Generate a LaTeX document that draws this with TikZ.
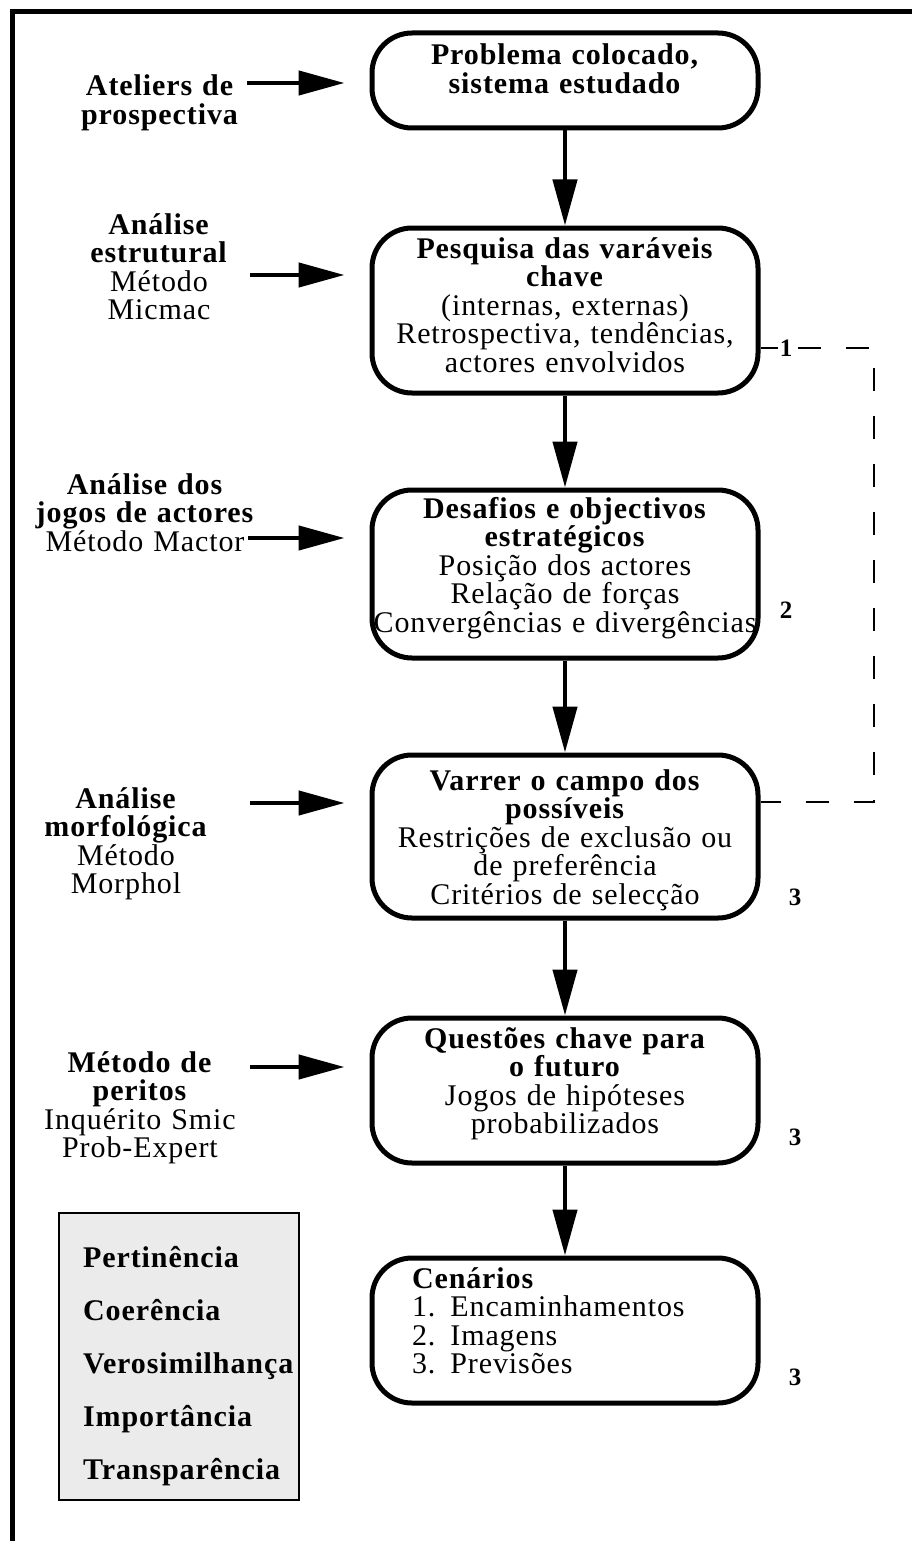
\documentclass[tikz,border=0pt]{standalone}
\usepackage{fontspec}
\setmainfont{Liberation Serif}[LetterSpace=3]
\usetikzlibrary{arrows.meta}
\newcommand{\boxfont}{\fontsize{30}{28.5}\selectfont\lineskiplimit=-50pt}
\newcommand{\tagfont}{\fontsize{25}{27}\selectfont\bfseries}
\tikzset{stage/.style = {draw, line width = 5pt, rounded corners = 40pt, text width = 386pt, inner xsep = 0pt, inner ysep = 8pt, align = center, anchor = base, font = \boxfont}}
\tikzset{side/.style = {text width = 230pt, inner sep = 0pt, align = center, anchor = base, font = \boxfont}}
\tikzset{feed/.style = {line width = 4.5pt, -{Triangle[length = 46pt, width = 24pt]}}}
\tikzset{link/.style = {line width = 2.5pt}}
\tikzset{tag/.style = {font = \tagfont, inner sep = 2pt}}
\tikzset{crit/.style = {draw, line width = 2pt, fill = black!8, inner sep = 0pt, minimum width = 240pt, minimum height = 287pt}}
\tikzset{critem/.style = {font = \boxfont\bfseries, anchor = base west, inner sep = 0pt}}

\begin{document}
\begin{tikzpicture}[x = 1pt, y = -1pt]
    \useasboundingbox (0, 0) rectangle (912, 1541);
    \draw [line width = 5pt] (12, 1560) -- (12, 11.5) -- (930, 11.5);
    % main chain
    \node [stage, text height = 24pt, text depth = 55pt] (b1) at (565, 65)
      {\textbf{Problema colocado,}\\ \textbf{sistema estudado}};
    \node [stage, text height = 22pt, text depth = 127pt] (b2) at (565, 258)
      {\textbf{Pesquisa das varáveis}\\ \textbf{chave}\\ (internas, externas)\\ Retrospectiva, tendências,\\ actores envolvidos};
    \node [stage, text height = 20pt, text depth = 132pt] (b3) at (565, 518)
      {\textbf{Desafios e objectivos}\\ \textbf{estratégicos}\\ Posição dos actores\\ Relação de forças\\ Convergências e divergências};
    \node [stage, text height = 27pt, text depth = 120pt] (b4) at (565, 790)
      {\textbf{Varrer o campo dos}\\ \textbf{possíveis}\\ Restrições de exclusão ou\\ de preferência\\ Critérios de selecção};
    \node [stage, text height = 22pt, text depth = 107pt] (b5) at (565, 1048)
      {\textbf{Questões chave para}\\ \textbf{o futuro}\\ Jogos de hipóteses\\ probabilizados};
    \node [stage, text width = 306pt, minimum width = 386pt, align = left, text height = 22pt, text depth = 107pt] (b6) at (565, 1288)
      {\textbf{Cenários}\\ 1. Encaminhamentos\\ 2. Imagens\\ 3. Previsões};
    \draw [feed] (b1.south) -- (b2.north);
    \draw [feed] (b2.south) -- (b3.north);
    \draw [feed] (b3.south) -- (b4.north);
    \draw [feed] (b4.south) -- (b5.north);
    \draw [feed] (b5.south) -- (b6.north);
    % methods on the left
    \node [side] (l1) at (160, 96) {\textbf{Ateliers de}\\ \textbf{prospectiva}};
    \node [side] (l2) at (159, 234) {\textbf{Análise}\\ \textbf{estrutural}\\ Método\\ Micmac};
    \node [side] (l3) at (145, 494) {\textbf{Análise dos}\\ \textbf{jogos de actores}\\ Método Mactor};
    \node [side] (l4) at (126, 808) {\textbf{Análise}\\ \textbf{morfológica}\\ Método\\ Morphol};
    \node [side] (l5) at (140, 1072) {\textbf{Método de}\\ \textbf{peritos}\\ Inquérito Smic\\ Prob-Expert};
    \coordinate (s1) at (247, 83);
    \coordinate (s2) at (250, 275);
    \coordinate (s3) at (248, 538);
    \coordinate (s4) at (250, 803);
    \coordinate (s5) at (250, 1067);
    \draw [feed, shorten > = 25pt] (s1) -- (s1 -| b1.west);
    \draw [feed, shorten > = 25pt] (s2) -- (s2 -| b2.west);
    \draw [feed, shorten > = 25pt] (s3) -- (s3 -| b3.west);
    \draw [feed, shorten > = 25pt] (s4) -- (s4 -| b4.west);
    \draw [feed, shorten > = 25pt] (s5) -- (s5 -| b5.west);
    % loop back and stage numbers
    \node [tag] (n1) at (786, 348) {1};
    \node [tag] (n2) at (786, 610) {2};
    \node [tag] (n3) at (795, 897) {3};
    \node [tag] (n4) at (795, 1137) {3};
    \node [tag] (n5) at (795, 1377) {3};
    \coordinate (c1) at (874, 348);
    \coordinate (c2) at (874, 802);
    \draw [link] (b2.east |- n1) -- (n1.west);
    \draw [link] (b4.east |- c2) -- ++(20, 0) coordinate (d2);
    \draw [link, dash pattern = on 23pt off 25pt, dash phase = 23pt] (d2) -- (c2) -- (c1) -- (n1.east);
    % criteria
    \node [crit] (crit) at (179, 1356.5) {};
    \foreach \word [count = \i] in {Pertinência, Coerência, Verosimilhança, Importância, Transparência}
      \node [critem] (k\i) at (83, {1213.8 + 53.2*\i}) {\word};
  \end{tikzpicture}
\end{document}
